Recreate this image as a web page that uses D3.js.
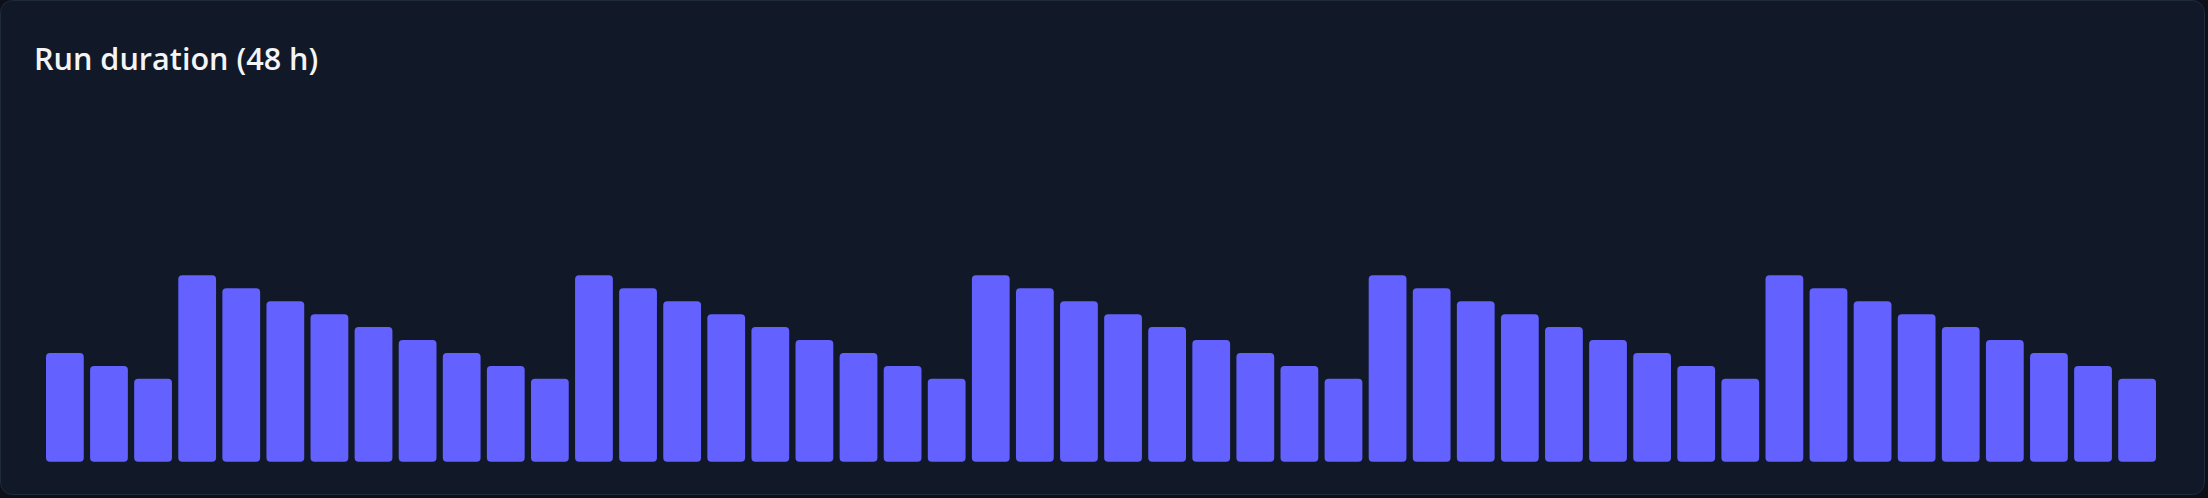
<!DOCTYPE html>
<html>
<head>
<meta charset="utf-8">
<script src="https://cdn.jsdelivr.net/npm/d3@7"></script>
<style>
  html, body { margin: 0; padding: 0; background: #0b1019; }
  body { width: 2208px; height: 498px; overflow: hidden; }
  svg { display: block; }
</style>
</head>
<body>
<svg id="chart" width="2208" height="498"></svg>
<script>
const title = "Run duration (48 h)";
const hours = d3.range(48).map(i => "h" + i);
const durations = [
  42, 37, 32,
  72, 67, 62, 57, 52, 47, 42, 37, 32,
  72, 67, 62, 57, 52, 47, 42, 37, 32,
  72, 67, 62, 57, 52, 47, 42, 37, 32,
  72, 67, 62, 57, 52, 47, 42, 37, 32,
  72, 67, 62, 57, 52, 47, 42, 37, 32
];

const svg = d3.select("#chart");

svg.append("rect")
  .attr("x", 0.5).attr("y", 0.5)
  .attr("width", 2204).attr("height", 494)
  .attr("rx", 12).attr("ry", 12)
  .attr("fill", "#111827")
  .attr("stroke", "#1f2a3a")
  .attr("stroke-width", 1);

svg.append("text")
  .attr("x", 34).attr("y", 70)
  .attr("fill", "#f3f4f6")
  .attr("font-family", "'Open Sans', 'Noto Sans', sans-serif")
  .attr("font-weight", 600)
  .attr("font-size", 30.6)
  .text(title);

const x = d3.scaleBand()
  .domain(hours)
  .range([46, 2156])
  .paddingInner(0.143)
  .paddingOuter(0);

const y = d3.scaleLinear()
  .domain([0, 72])
  .range([461.7, 275.3]);

svg.append("g")
  .selectAll("rect")
  .data(durations)
  .join("rect")
  .attr("x", (d, i) => x(hours[i]))
  .attr("y", d => y(d))
  .attr("width", x.bandwidth())
  .attr("height", d => y(0) - y(d))
  .attr("rx", 4).attr("ry", 4)
  .attr("fill", "#6361ff");
</script>
</body>
</html>
